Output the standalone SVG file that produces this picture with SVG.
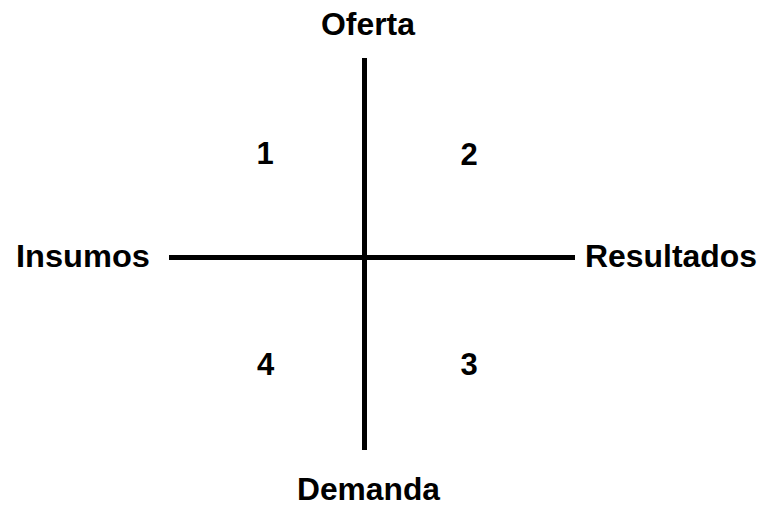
<svg xmlns="http://www.w3.org/2000/svg" width="765" height="507" viewBox="0 0 765 507">
<style>
.lbl{font-family:"Liberation Sans",Arial,sans-serif;font-weight:bold;font-size:31px;fill:#000}
.num{font-family:"Liberation Sans",Arial,sans-serif;font-weight:bold;font-size:31px;fill:#000;text-anchor:middle}
.axis{stroke:#000;stroke-width:5;fill:none}
</style>
<rect width="765" height="507" fill="#fff"/>
<g id="connectors">
<line class="axis" x1="364.5" y1="58" x2="364.5" y2="450"/>
<line class="axis" x1="169" y1="257.5" x2="575" y2="257.5"/>
</g>
<g id="oferta"><text class="lbl" x="368" y="35" text-anchor="middle" textLength="94" lengthAdjust="spacingAndGlyphs">Oferta</text></g>
<g id="demanda"><text class="lbl" x="368.5" y="500" text-anchor="middle" textLength="143" lengthAdjust="spacingAndGlyphs">Demanda</text></g>
<g id="insumos"><text class="lbl" x="16" y="267" textLength="134" lengthAdjust="spacingAndGlyphs">Insumos</text></g>
<g id="resultados"><text class="lbl" x="585" y="267" textLength="172" lengthAdjust="spacingAndGlyphs">Resultados</text></g>
<g id="q1"><text class="num" x="265" y="164">1</text></g>
<g id="q2"><text class="num" x="469" y="165">2</text></g>
<g id="q3"><text class="num" x="469" y="375">3</text></g>
<g id="q4"><text class="num" x="265.5" y="375">4</text></g>
</svg>
